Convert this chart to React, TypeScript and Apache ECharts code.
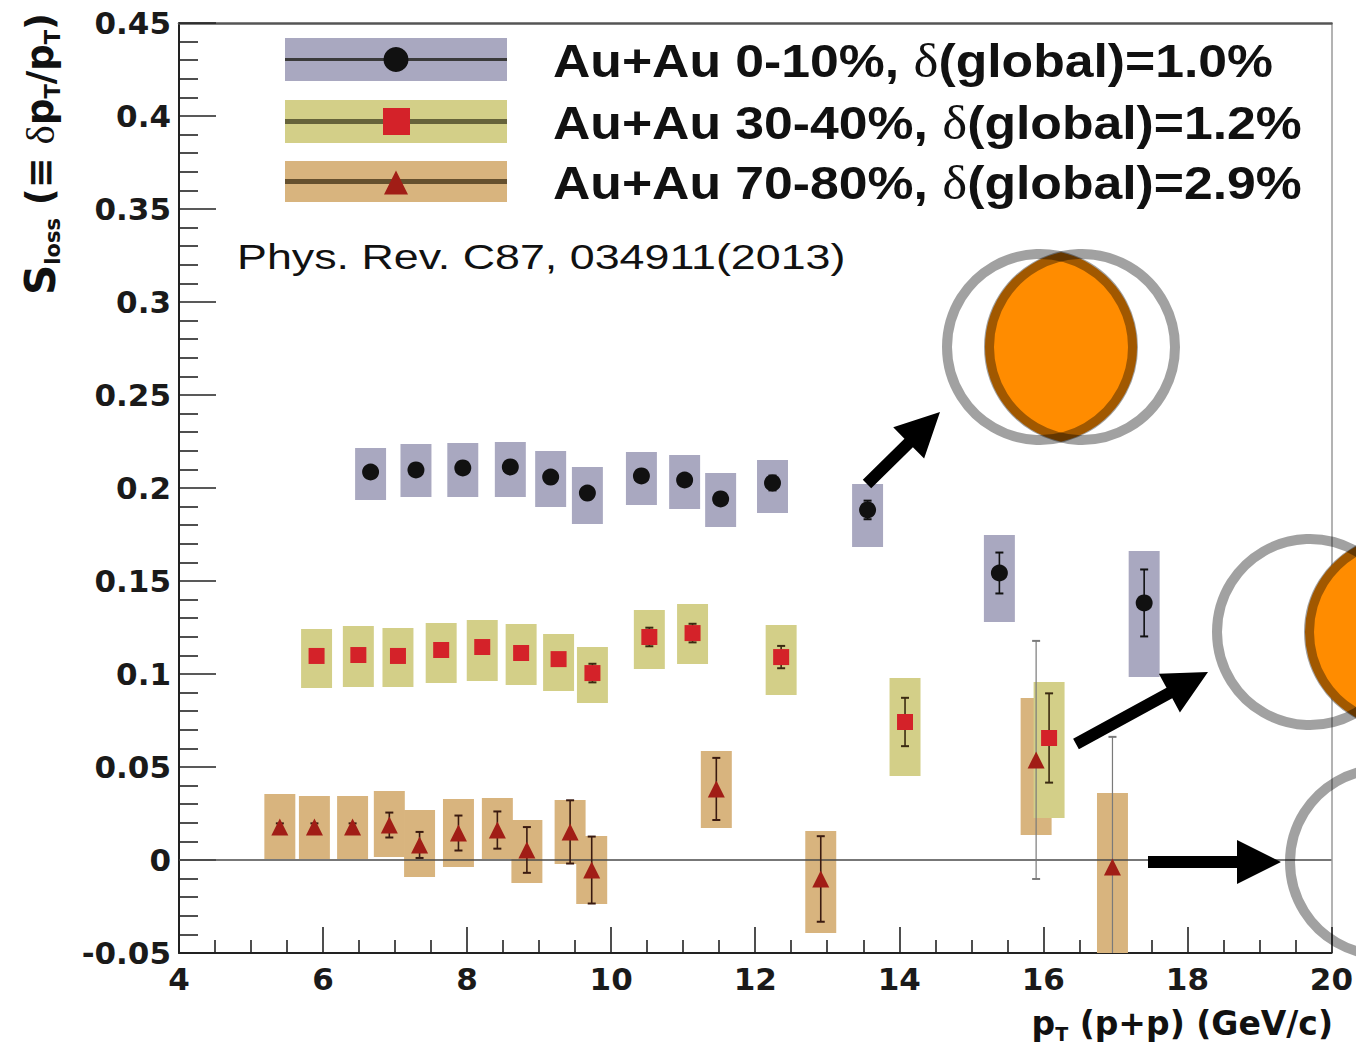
import React, { useEffect, useRef } from 'react';
import * as echarts from 'echarts';

// ---- Au+Au 0-10% ----
const centralPt = [6.66, 7.29, 7.94, 8.6, 9.16, 9.67, 10.42, 11.02, 11.52, 12.24, 13.56, 15.39, 17.4];
const centralS = [0.2086, 0.2097, 0.2108, 0.2113, 0.2059, 0.1973, 0.2065, 0.2043, 0.1941, 0.2027, 0.1882, 0.1543, 0.1382];
const centralStat = [0.003, 0.003, 0.003, 0.003, 0.003, 0.003, 0.003, 0.003, 0.003, 0.004, 0.005, 0.011, 0.018];
const centralSysLo = [0.1935, 0.1952, 0.1952, 0.1952, 0.1898, 0.1806, 0.1909, 0.1887, 0.179, 0.1866, 0.1683, 0.128, 0.0984];
const centralSysHi = [0.2215, 0.2237, 0.2242, 0.2247, 0.2199, 0.2113, 0.2194, 0.2177, 0.2081, 0.2151, 0.2022, 0.1747, 0.1661];

// ---- Au+Au 30-40% ----
const midPt = [5.91, 6.49, 7.04, 7.64, 8.21, 8.75, 9.27, 9.74, 10.53, 11.13, 12.36, 14.08, 16.08];
const midS = [0.1097, 0.1102, 0.1097, 0.1129, 0.1145, 0.1113, 0.108, 0.1005, 0.1199, 0.122, 0.1091, 0.0742, 0.0656];
const midStat = [0.003, 0.003, 0.003, 0.003, 0.003, 0.003, 0.003, 0.005, 0.005, 0.005, 0.006, 0.013, 0.024];
const midSysLo = [0.0925, 0.093, 0.093, 0.0952, 0.0962, 0.0941, 0.0909, 0.0844, 0.1027, 0.1054, 0.0887, 0.0452, 0.0226];
const midSysHi = [0.1242, 0.1258, 0.1247, 0.1274, 0.129, 0.1269, 0.1215, 0.1145, 0.1344, 0.1376, 0.1263, 0.0978, 0.0957];

// ---- Au+Au 70-80% ----
const periphPt = [5.4, 5.88, 6.41, 6.92, 7.34, 7.88, 8.42, 8.83, 9.43, 9.73, 11.46, 12.91, 15.9, 16.96];
const periphS = [0.0177, 0.0177, 0.0177, 0.0188, 0.0081, 0.0145, 0.0161, 0.0054, 0.0151, -0.0054, 0.0382, -0.0102, 0.0538, -0.0038];
const periphStat = [0.002, 0.002, 0.002, 0.0067, 0.007, 0.0094, 0.01, 0.0123, 0.017, 0.018, 0.0167, 0.023, 0.064, 0.07];
const periphSysLo = [0.0005, 0.0005, 0.0005, 0.0016, -0.0091, -0.0038, 0.0005, -0.0124, -0.0022, -0.0237, 0.0172, -0.0392, 0.0134, -0.056];
const periphSysHi = [0.0355, 0.0344, 0.0344, 0.0371, 0.0269, 0.0328, 0.0333, 0.0215, 0.0323, 0.0129, 0.0586, 0.0156, 0.0871, 0.036];

// ---- axes ----
const xMin = 4;
const xMax = 20;
const xStep = 2;
const yMin = -0.05;
const yMax = 0.45;
const yStep = 0.05;

// ---- texts ----
const legendLabels = ['Au+Au 0-10%, ', 'Au+Au 30-40%, ', 'Au+Au 70-80%, '];
const legendGlobal = ['(global)=1.0%', '(global)=1.2%', '(global)=2.9%'];
const citation = 'Phys. Rev. C87, 034911(2013)';

// half-width (GeV/c) of the systematic-uncertainty boxes
const BOX_HALF_WIDTH = 0.215;

// overlap sketches of two colliding nuclei: centre line y and the two nucleus centres (px)
const overlapSketches = [
  { cy: 347, c1: 1040, c2: 1082 },
  { cy: 632, c1: 1310, c2: 1402 },
  { cy: 862, c1: 1383, c2: 1543 },
];
const NUCLEUS_R = 93;
const LENS_R = 97;

overlapSketches.forEach((o, i) => {
  const half = (o.c2 - o.c1) / 2;
  const h = Math.sqrt(LENS_R * LENS_R - half * half);
  const xm = (o.c1 + o.c2) / 2;
  const d = `M${xm} ${o.cy - h}A${LENS_R} ${LENS_R} 0 0 1 ${xm} ${o.cy + h}A${LENS_R} ${LENS_R} 0 0 1 ${xm} ${o.cy - h}Z`;
  echarts.graphic.registerShape('overlapLens' + i, echarts.graphic.extendPath(d, {}));
});

const arrows = [
  { tail: [867, 484], tip: [940, 412] },
  { tail: [1076, 744], tip: [1208, 672] },
  { tail: [1148, 862], tip: [1281, 862] },
];

function arrowPoints(tail: number[], tip: number[]) {
  const shaft = 6;
  const headLen = 44;
  const headHalf = 22;
  const dx = tip[0] - tail[0];
  const dy = tip[1] - tail[1];
  const L = Math.hypot(dx, dy);
  const ux = dx / L;
  const uy = dy / L;
  const nx = -uy;
  const ny = ux;
  const bx = tip[0] - ux * headLen;
  const by = tip[1] - uy * headLen;
  return [
    [tail[0] + nx * shaft, tail[1] + ny * shaft],
    [bx + nx * shaft, by + ny * shaft],
    [bx + nx * headHalf, by + ny * headHalf],
    [tip[0], tip[1]],
    [bx - nx * headHalf, by - ny * headHalf],
    [bx - nx * shaft, by - ny * shaft],
    [tail[0] - nx * shaft, tail[1] - ny * shaft],
  ];
}

const groups = [
  {
    pt: centralPt, s: centralS, stat: centralStat, lo: centralSysLo, hi: centralSysHi,
    box: '#a9a8c0', symbol: 'circle', size: 17, color: '#111111', err: '#111111',
  },
  {
    pt: midPt, s: midS, stat: midStat, lo: midSysLo, hi: midSysHi,
    box: '#d3cf88', symbol: 'rect', size: 16, color: '#d42229', err: '#3a2a12',
  },
  {
    pt: periphPt, s: periphS, stat: periphStat, lo: periphSysLo, hi: periphSysHi,
    box: '#d8b47e', symbol: 'triangle', size: 17, color: '#a11d16', err: '#3a1a10',
  },
];

const AXIS_FONT = 'DejaVu Sans';

function boxSeries(g: any) {
  return {
    type: 'custom',
    z: 2,
    silent: true,
    data: g.pt.map((x: number, i: number) => [x, g.lo[i], g.hi[i]]),
    encode: { x: 0, y: [1, 2] },
    renderItem: (params: any, api: any) => {
      const x = api.value(0);
      const p1 = api.coord([x - BOX_HALF_WIDTH, api.value(2)]);
      const p2 = api.coord([x + BOX_HALF_WIDTH, api.value(1)]);
      const cs = params.coordSys;
      const rect = echarts.graphic.clipRectByRect(
        { x: p1[0], y: p1[1], width: p2[0] - p1[0], height: p2[1] - p1[1] },
        { x: cs.x, y: cs.y, width: cs.width, height: cs.height }
      );
      if (!rect) return null;
      return { type: 'rect', shape: rect, style: { fill: g.box } };
    },
  };
}

function errorSeries(g: any) {
  return {
    type: 'custom',
    z: 3,
    silent: true,
    clip: true,
    data: g.pt.map((x: number, i: number) => [x, g.s[i] - g.stat[i], g.s[i] + g.stat[i], g.stat[i]]),
    encode: { x: 0, y: [1, 2] },
    renderItem: (params: any, api: any) => {
      const x = api.value(0);
      const top = api.coord([x, api.value(2)]);
      const bot = api.coord([x, api.value(1)]);
      const large = api.value(3) > 0.04;
      const stroke = large ? '#7a7a7a' : g.err;
      const lw = large ? 1.2 : 1.6;
      const cap = 4;
      return {
        type: 'group',
        children: [
          { type: 'line', shape: { x1: top[0], y1: top[1], x2: bot[0], y2: bot[1] }, style: { stroke, lineWidth: lw } },
          { type: 'line', shape: { x1: top[0] - cap, y1: top[1], x2: top[0] + cap, y2: top[1] }, style: { stroke, lineWidth: 2 } },
          { type: 'line', shape: { x1: bot[0] - cap, y1: bot[1], x2: bot[0] + cap, y2: bot[1] }, style: { stroke, lineWidth: 2 } },
        ],
      };
    },
  };
}

function markerSeries(g: any, withZero: boolean) {
  const s: any = {
    type: 'scatter',
    z: 4,
    silent: true,
    symbol: g.symbol,
    symbolSize: g.size,
    itemStyle: { color: g.color, opacity: 1 },
    data: g.pt.map((x: number, i: number) => [x, g.s[i]]),
  };
  if (withZero) {
    s.markLine = {
      silent: true,
      symbol: ['none', 'none'],
      label: { show: false },
      lineStyle: { color: '#4a4a4a', width: 1.5, type: 'solid' },
      data: [{ yAxis: 0 }],
      z: 3,
    };
  }
  return s;
}

function legendElements() {
  const rows = [38, 100, 161];
  const heights = [43, 43, 41];
  const lineColors = ['#3a3a3a', '#66633a', '#65502e'];
  const lineWidths = [3, 5, 5];
  const els: any[] = [];
  rows.forEach((top, i) => {
    const g = groups[i];
    const cy = top + heights[i] / 2;
    els.push({ type: 'rect', z: 100, shape: { x: 285, y: top, width: 222, height: heights[i] }, style: { fill: g.box } });
    els.push({ type: 'line', z: 101, shape: { x1: 285, y1: cy, x2: 507, y2: cy }, style: { stroke: lineColors[i], lineWidth: lineWidths[i] } });
    if (g.symbol === 'circle') {
      els.push({ type: 'circle', z: 102, shape: { cx: 396, cy, r: 12.5 }, style: { fill: g.color } });
    } else if (g.symbol === 'rect') {
      els.push({ type: 'rect', z: 102, shape: { x: 383, y: cy - 13.5, width: 27, height: 27 }, style: { fill: g.color } });
    } else {
      els.push({ type: 'polygon', z: 102, shape: { points: [[384, cy + 13], [408, cy + 13], [396, cy - 11]] }, style: { fill: g.color } });
    }
    els.push({
      type: 'text',
      z: 102,
      x: 553,
      y: cy + 1,
      scaleX: 1.1,
      style: {
        text: `{t|${legendLabels[i]}}{d|δ}{t|${legendGlobal[i]}}`,
        align: 'left',
        verticalAlign: 'middle',
        rich: {
          t: { fontFamily: 'Liberation Sans', fontWeight: 'bold', fontSize: 47, fill: '#111' },
          d: { fontFamily: 'Liberation Serif', fontWeight: 'normal', fontSize: 48, fill: '#111' },
        },
      },
    });
  });
  return els;
}

function overlayElements() {
  const els: any[] = [];
  overlapSketches.forEach((o, i) => {
    els.push({ type: 'overlapLens' + i, z: 110, x: 0, y: 0, style: { fill: '#ff8c00' } });
    [o.c1, o.c2].forEach((cx) => {
      els.push({
        type: 'circle',
        z: 111,
        shape: { cx, cy: o.cy, r: NUCLEUS_R },
        style: { fill: 'none', stroke: 'rgba(0,0,0,0.37)', lineWidth: 10 },
      });
    });
  });
  arrows.forEach((a) => {
    els.push({ type: 'polygon', z: 112, shape: { points: arrowPoints(a.tail, a.tip) }, style: { fill: '#000' } });
  });
  return els;
}

function axisNameElements() {
  const yRich = {
    m: { fontFamily: AXIS_FONT, fontWeight: 'bold', fontSize: 37, lineHeight: 46, fill: '#111' },
    big: { fontFamily: AXIS_FONT, fontWeight: 'bold', fontSize: 42, lineHeight: 46, fill: '#111' },
    sub: { fontFamily: AXIS_FONT, fontWeight: 'bold', fontSize: 21, lineHeight: 21, verticalAlign: 'bottom', fill: '#111' },
    d: { fontFamily: 'Liberation Serif', fontWeight: 'normal', fontSize: 41, lineHeight: 46, fill: '#111' },
  };
  const xRich = {
    m: { fontFamily: AXIS_FONT, fontWeight: 'bold', fontSize: 33, lineHeight: 41, fill: '#111' },
    sub: { fontFamily: AXIS_FONT, fontWeight: 'bold', fontSize: 19, lineHeight: 19, verticalAlign: 'bottom', fill: '#111' },
  };
  return [
    {
      type: 'text',
      z: 100,
      x: 40,
      y: 154,
      rotation: Math.PI / 2,
      style: {
        text: '{big|S}{sub|loss}{m| (≡ }{d|δ}{m|p}{sub|T}{m|/p}{sub|T}{m|)}',
        align: 'center',
        verticalAlign: 'middle',
        rich: yRich,
      },
    },
    {
      type: 'text',
      z: 100,
      x: 1333,
      y: 1023,
      style: {
        text: '{m|p}{sub|T}{m| (p+p) (GeV/c)}',
        align: 'right',
        verticalAlign: 'middle',
        rich: xRich,
      },
    },
  ];
}

function citationElement() {
  return {
    type: 'text',
    z: 100,
    x: 237,
    y: 257,
    scaleX: 1.245,
    style: {
      text: citation,
      align: 'left',
      verticalAlign: 'middle',
      fontFamily: 'Liberation Sans',
      fontWeight: 'normal',
      fontSize: 36,
      fill: '#111',
    },
  };
}

function yFormatter(v: number) {
  const r = Math.round(v * 100) / 100;
  return r === 0 ? '0' : String(r);
}

export default function App() {
  const ref = useRef<HTMLDivElement>(null);

  useEffect(() => {
    if (!ref.current) return;
    const chart = echarts.init(ref.current, undefined, { renderer: 'svg' });
    const tickStyle = { color: '#222', width: 1.6 };
    const labelStyle = { fontFamily: AXIS_FONT, fontWeight: 'bold', fontSize: 31, color: '#1a1a1a' };
    chart.setOption({
      animation: false,
      backgroundColor: '#ffffff',
      grid: { left: 179, top: 23, right: 21, bottom: 102, containLabel: false },
      xAxis: [
        {
          type: 'value',
          min: xMin,
          max: xMax,
          interval: xStep,
          axisLine: { show: true, onZero: false, lineStyle: { color: '#222', width: 2 } },
          axisTick: { show: true, inside: true, length: 26, lineStyle: tickStyle },
          minorTick: { show: true, splitNumber: 4, length: 13, lineStyle: tickStyle },
          axisLabel: { ...labelStyle, margin: 10 },
          splitLine: { show: false },
        },
        {
          type: 'value',
          position: 'top',
          min: xMin,
          max: xMax,
          axisLine: { show: true, onZero: false, lineStyle: { color: '#555', width: 2.5 } },
          axisTick: { show: false },
          axisLabel: { show: false },
          splitLine: { show: false },
        },
      ],
      yAxis: [
        {
          type: 'value',
          min: yMin,
          max: yMax,
          interval: yStep,
          axisLine: { show: true, onZero: false, lineStyle: { color: '#222', width: 2 } },
          axisTick: { show: true, inside: true, length: 37, lineStyle: tickStyle },
          minorTick: { show: true, splitNumber: 5, length: 19, lineStyle: tickStyle },
          axisLabel: { ...labelStyle, margin: 8, formatter: yFormatter },
          splitLine: { show: false },
        },
        {
          type: 'value',
          position: 'right',
          min: yMin,
          max: yMax,
          axisLine: { show: true, onZero: false, lineStyle: { color: '#9a9a9a', width: 1.5 } },
          axisTick: { show: false },
          axisLabel: { show: false },
          splitLine: { show: false },
        },
      ],
      series: [
        boxSeries(groups[0]),
        boxSeries(groups[2]),
        boxSeries(groups[1]),
        errorSeries(groups[0]),
        errorSeries(groups[1]),
        errorSeries(groups[2]),
        markerSeries(groups[0], false),
        markerSeries(groups[1], false),
        markerSeries(groups[2], true),
      ],
      graphic: {
        elements: [...legendElements(), citationElement(), ...axisNameElements(), ...overlayElements()],
      },
    });
    return () => chart.dispose();
  }, []);

  return (
    <div
      ref={ref}
      style={{ position: 'fixed', left: 0, top: 0, width: 1356, height: 1055, background: '#fff' }}
    />
  );
}
